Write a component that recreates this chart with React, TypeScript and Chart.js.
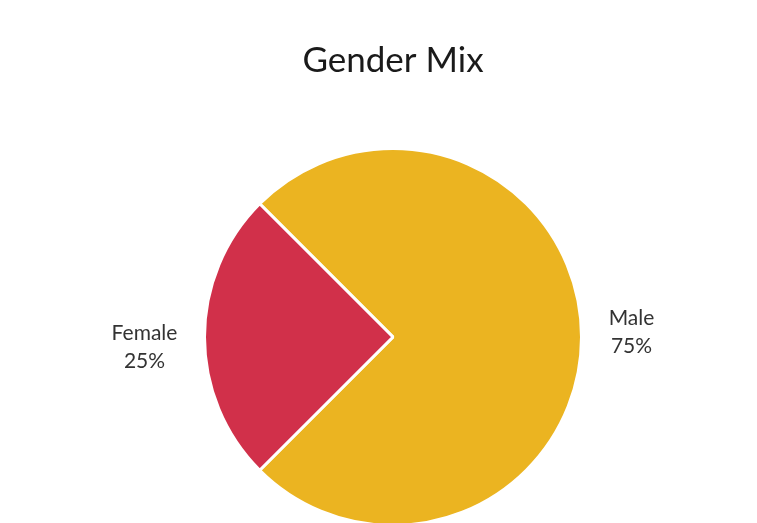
import React, { useEffect, useRef } from "react";
import { Chart, registerables } from "chart.js";

Chart.register(...registerables);

const title = "Gender Mix";
const categories = ["Male", "Female"];
const values = [75, 25];
const colors = ["#EBB421", "#D1304A"];

const labelOffsets = [
  { d: 50, dy: -6 },
  { d: 60, dy: 9 },
];

const labelPlugin = {
  id: "pieLabels",
  afterDraw(chart: any) {
    const ctx = chart.ctx;
    ctx.save();
    ctx.fillStyle = "#1a1a1a";
    ctx.textAlign = "center";
    ctx.textBaseline = "middle";
    ctx.font = "35px Lato, 'Open Sans', sans-serif";
    ctx.fillText(title, 393, 61);
    const meta = chart.getDatasetMeta(0);
    const total = values.reduce((a, b) => a + b, 0);
    ctx.font = "21px Lato, 'Open Sans', sans-serif";
    ctx.fillStyle = "#333333";
    meta.data.forEach((arc: any, i: number) => {
      const p = arc.getProps(["x", "y", "startAngle", "endAngle", "outerRadius"], true);
      const mid = (p.startAngle + p.endAngle) / 2;
      const r = p.outerRadius + labelOffsets[i].d;
      const x = p.x + Math.cos(mid) * r;
      const y = p.y + Math.sin(mid) * r + labelOffsets[i].dy;
      const pct = Math.round((values[i] / total) * 100) + "%";
      ctx.fillText(categories[i], x, y - 13);
      ctx.fillText(pct, x, y + 15);
    });
    ctx.restore();
  },
};

export default function App() {
  const ref = useRef<HTMLCanvasElement | null>(null);
  useEffect(() => {
    if (!ref.current) return;
    const chart = new Chart(ref.current, {
      type: "pie",
      data: {
        labels: categories,
        datasets: [
          {
            data: values,
            backgroundColor: colors,
            borderColor: "#ffffff",
            borderWidth: 3,
          },
        ],
      },
      options: {
        responsive: false,
        animation: false,
        rotation: -45,
        layout: { padding: { top: 146, bottom: 32, left: 203, right: 174 } },
        plugins: {
          legend: { display: false },
          title: { display: false },
          tooltip: { enabled: false },
        },
      },
      plugins: [labelPlugin],
    });
    return () => chart.destroy();
  }, []);
  return (
    <div
      style={{
        position: "fixed",
        left: 0,
        top: 0,
        width: 757,
        height: 523,
        overflow: "hidden",
        background: "#ffffff",
      }}
    >
      <canvas ref={ref} width={757} height={560} style={{ display: "block" }} />
    </div>
  );
}
